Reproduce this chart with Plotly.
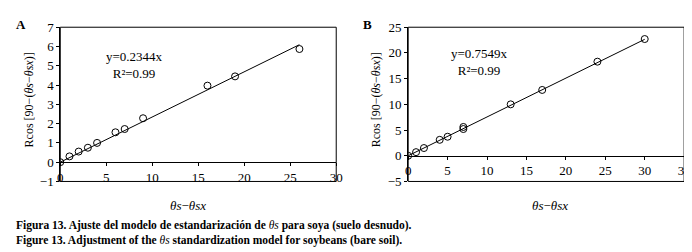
import plotly.graph_objects as go

# Panel A (soya, suelo desnudo)
xa = [0, 1, 2, 3, 4, 6, 7, 9, 16, 19, 26]
ya = [0, 0.3, 0.55, 0.75, 1.0, 1.55, 1.72, 2.28, 3.97, 4.45, 5.87]
slope_a = 0.2344

# Panel B
xb = [0, 1, 2, 4, 5, 7, 7, 13, 17, 24, 30]
yb = [0, 0.7, 1.5, 3.1, 3.7, 5.2, 5.6, 10.0, 12.8, 18.3, 22.7]
slope_b = 0.7549

W, H = 692, 252
SERIF = "Liberation Serif, Times New Roman, serif"
FONT = dict(family=SERIF, size=13, color="black")

dom_a = [50 / W, 330 / W]
dom_b = [403 / W, 683 / W]
dom_y = [1 - 177 / H, 1 - 13 / H]
rng_a = [-1, 7]
rng_b = [-5, 25]


def zero_pos(rng):
    # paper y of the data value 0 inside the shared y domain
    frac = (0 - rng[0]) / (rng[1] - rng[0])
    return dom_y[0] + frac * (dom_y[1] - dom_y[0])


fig = go.Figure()
mk = dict(symbol="circle-open", size=7, color="black", line=dict(width=1))

fig.add_scatter(x=xa, y=ya, mode="markers", marker=mk, xaxis="x", yaxis="y", showlegend=False)
fig.add_scatter(x=[0, max(xa)], y=[0, slope_a * max(xa)], mode="lines",
                line=dict(color="black", width=1), xaxis="x", yaxis="y", showlegend=False)
fig.add_scatter(x=xb, y=yb, mode="markers", marker=mk, xaxis="x2", yaxis="y2", showlegend=False)
fig.add_scatter(x=[0, max(xb)], y=[0, slope_b * max(xb)], mode="lines",
                line=dict(color="black", width=1), xaxis="x2", yaxis="y2", showlegend=False)

xcommon = dict(showgrid=False, zeroline=False, showline=True, linecolor="black", linewidth=1,
               ticks="outside", ticklen=3, tickcolor="black", tickfont=FONT, dtick=5)
ycommon = dict(showgrid=False, zeroline=False, showline=True, linecolor="black", linewidth=1,
               ticks="outside", ticklen=3, tickcolor="black", tickfont=FONT, domain=dom_y)

fig.update_layout(
    width=W, height=H,
    margin=dict(l=0, r=0, t=0, b=0),
    paper_bgcolor="white", plot_bgcolor="white",
    font=FONT,
    xaxis=dict(xcommon, domain=dom_a, range=[0, 30], anchor="free", position=zero_pos(rng_a)),
    yaxis=dict(ycommon, range=rng_a, dtick=1, anchor="x"),
    xaxis2=dict(xcommon, domain=dom_b, range=[0, 35], anchor="free", position=zero_pos(rng_b)),
    yaxis2=dict(ycommon, range=rng_b, dtick=5, anchor="x2"),
)

# frames
for xr, yr in [("x domain", "y domain"), ("x2 domain", "y2 domain")]:
    fig.add_shape(type="rect", xref=xr, yref=yr, x0=0, x1=1, y0=0, y1=1,
                  line=dict(color="black", width=1))

ytitle = "Rcos [90−(<i>θs</i>−<i>θsx</i>)]"
xtitle = "<i>θs</i>−<i>θsx</i>"
ann = [
    dict(text="<b>A</b>", x=10 / W, y=1 - 10 / H),
    dict(text="<b>B</b>", x=362 / W, y=1 - 10 / H),
    dict(text="y=0.2344x<br>R²=0.99", x=125 / W, y=1 - 53 / H),
    dict(text="y=0.7549x<br>R²=0.99", x=475 / W, y=1 - 50 / H),
    dict(text=ytitle, x=18 / W, y=1 - 90 / H, textangle=-90, font=dict(family=SERIF, size=12)),
    dict(text=ytitle, x=370 / W, y=1 - 90 / H, textangle=-90, font=dict(family=SERIF, size=12)),
    dict(text=xtitle, x=180 / W, y=1 - 203 / H),
    dict(text=xtitle, x=547 / W, y=1 - 203 / H),
]
for a in ann:
    fig.add_annotation(xref="paper", yref="paper", showarrow=False, xanchor="center",
                       yanchor="middle", **a)

cap = ("<b>Figura 13. Ajuste del modelo de estandarización de </b><i>θs</i>"
       "<b> para soya (suelo desnudo).</b><br>"
       "<b>Figure 13. Adjustment of the </b><i>θs</i>"
       "<b> standardization model for soybeans (bare soil).</b>")
fig.add_annotation(xref="paper", yref="paper", x=3 / W, y=1 - 232 / H, xanchor="left",
                   yanchor="middle", align="left", showarrow=False, text=cap,
                   font=dict(family=SERIF, size=11.5))

fig.write_html("out.html")
